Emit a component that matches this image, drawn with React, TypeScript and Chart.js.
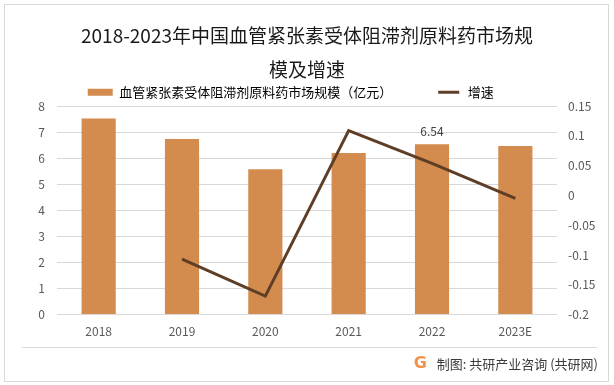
import React, { useEffect, useRef } from "react";
import { Chart, registerables } from "chart.js";

Chart.register(...registerables);

// ---- data ----
const categories = ["2018", "2019", "2020", "2021", "2022", "2023E"];
const marketSize = [7.52, 6.74, 5.58, 6.2, 6.54, 6.47];
const growthRate = [null, -0.107, -0.169, 0.109, 0.054, -0.005];
const barValueLabels = [null, null, null, null, "6.54", null];
const leftAxis = { min: 0, max: 8, step: 1 };
const rightAxis = { min: -0.2, max: 0.15, step: 0.05 };

const titleLine1 = "2018-2023年中国血管紧张素受体阻滞剂原料药市场规";
const titleLine2 = "模及增速";
const barSeriesName = "血管紧张素受体阻滞剂原料药市场规模（亿元）";
const lineSeriesName = "增速";
const sourceText = "制图: 共研产业咨询 (共研网)";

const BAR_COLOR = "#d48b4e";
const LINE_COLOR = "#5e3e26";
const GRID_COLOR = "#d9d9d9";
const TICK_COLOR = "#595959";
const FONT = "'Noto Sans CJK SC', 'Noto Sans', sans-serif";

const valueLabelPlugin = {
  id: "valueLabels",
  afterDatasetsDraw(chart: any) {
    const meta = chart.getDatasetMeta(0);
    const ctx = chart.ctx;
    ctx.save();
    ctx.font = `12px ${FONT}`;
    ctx.fillStyle = "#404040";
    ctx.textAlign = "center";
    ctx.textBaseline = "middle";
    meta.data.forEach((el: any, i: number) => {
      const t = barValueLabels[i];
      if (t) ctx.fillText(t, el.x, el.y - 13);
    });
    ctx.restore();
  },
};

export default function App() {
  const canvasRef = useRef<HTMLCanvasElement | null>(null);

  useEffect(() => {
    document.body.style.margin = "0";
    const canvas = canvasRef.current;
    if (!canvas) return;
    Chart.defaults.font.family = FONT;
    const chart = new Chart(canvas, {
      type: "bar",
      data: {
        labels: categories,
        datasets: [
          {
            type: "bar",
            label: barSeriesName,
            data: marketSize,
            backgroundColor: BAR_COLOR,
            yAxisID: "y",
            barPercentage: 0.41,
            categoryPercentage: 1,
            order: 1,
          } as any,
          {
            type: "line",
            label: lineSeriesName,
            data: growthRate,
            borderColor: LINE_COLOR,
            backgroundColor: LINE_COLOR,
            borderWidth: 3,
            pointRadius: 0,
            tension: 0,
            yAxisID: "y1",
            order: 0,
          } as any,
        ],
      },
      options: {
        responsive: false,
        animation: false,
        layout: { padding: { left: 0, right: 0, top: 0, bottom: 36 } },
        plugins: {
          tooltip: { enabled: false },
          title: {
            display: true,
            text: titleLine1,
            color: "#1a1a1a",
            font: { size: 19, weight: "normal", family: FONT, lineHeight: 1.2 },
            padding: { top: 24.6, bottom: 0 },
          },
          subtitle: {
            display: true,
            text: titleLine2,
            color: "#1a1a1a",
            font: { size: 19, weight: "normal", family: FONT, lineHeight: 1.2 },
            padding: { top: 10.6, bottom: 0 },
          },
          legend: {
            display: true,
            position: "top",
            maxHeight: 25.3,
            labels: {
              boxWidth: 25,
              boxHeight: 7,
              padding: 5,
              color: "#404040",
              font: { size: 13, family: FONT },
              generateLabels: () => [
                {
                  text: barSeriesName + "\u3000\u3000\u3000\u2002",
                  fillStyle: BAR_COLOR,
                  strokeStyle: BAR_COLOR,
                  lineWidth: 0,
                  hidden: false,
                  datasetIndex: 0,
                },
                {
                  text: lineSeriesName + "\u3000\u3000\u2002",
                  fillStyle: LINE_COLOR,
                  strokeStyle: "#ffffff",
                  lineWidth: 4,
                  hidden: false,
                  datasetIndex: 1,
                },
              ],
            },
          } as any,
        },
        scales: {
          x: {
            grid: { display: false, drawTicks: false },
            border: { display: false },
            ticks: { color: TICK_COLOR, font: { size: 12 }, padding: 10, maxRotation: 0 },
          },
          y: {
            position: "left",
            min: leftAxis.min,
            max: leftAxis.max,
            grid: { color: GRID_COLOR, drawTicks: false, lineWidth: 1 },
            border: { display: false },
            ticks: { stepSize: leftAxis.step, color: TICK_COLOR, font: { size: 12 }, padding: 12 },
            afterFit: (scale: any) => {
              scale.width = 57;
            },
          },
          y1: {
            position: "right",
            min: rightAxis.min,
            max: rightAxis.max,
            grid: { display: false, drawTicks: false },
            border: { display: false },
            ticks: {
              stepSize: rightAxis.step,
              color: TICK_COLOR,
              font: { size: 12 },
              padding: 11,
              callback: (v: any) => String(Math.round(Number(v) * 100) / 100),
            },
            afterFit: (scale: any) => {
              scale.width = 57;
            },
          },
        },
      } as any,
      plugins: [valueLabelPlugin],
    });
    return () => chart.destroy();
  }, []);

  return (
    <div style={{ position: "relative", width: 614, height: 385, background: "#ffffff", overflow: "hidden" }}>
      <div
        style={{
          position: "absolute",
          left: 4,
          top: 4,
          width: 603,
          height: 376,
          border: "1px solid #d9d9d9",
          boxSizing: "content-box",
        }}
      />
      <canvas
        ref={canvasRef}
        width={614}
        height={385}
        style={{ position: "absolute", left: 0, top: 0, width: 614, height: 385 }}
      />
      <div style={{ position: "absolute", left: 22, top: 347, width: 575, height: 1, background: "#d9d9d9" }} />
      <div
        style={{
          position: "absolute",
          right: 16,
          top: 353,
          height: 20,
          display: "flex",
          alignItems: "center",
          fontFamily: FONT,
          fontSize: 13,
          color: "#3a3a3a",
          whiteSpace: "nowrap",
        }}
      >
        <span
          style={{
            display: "inline-block",
            fontWeight: 900,
            fontSize: 16,
            lineHeight: "16px",
            marginRight: 10,
            color: "#f0924a",
            fontFamily: "'DejaVu Sans', sans-serif",
          }}
        >
          G
        </span>
        <span>{sourceText}</span>
      </div>
    </div>
  );
}
